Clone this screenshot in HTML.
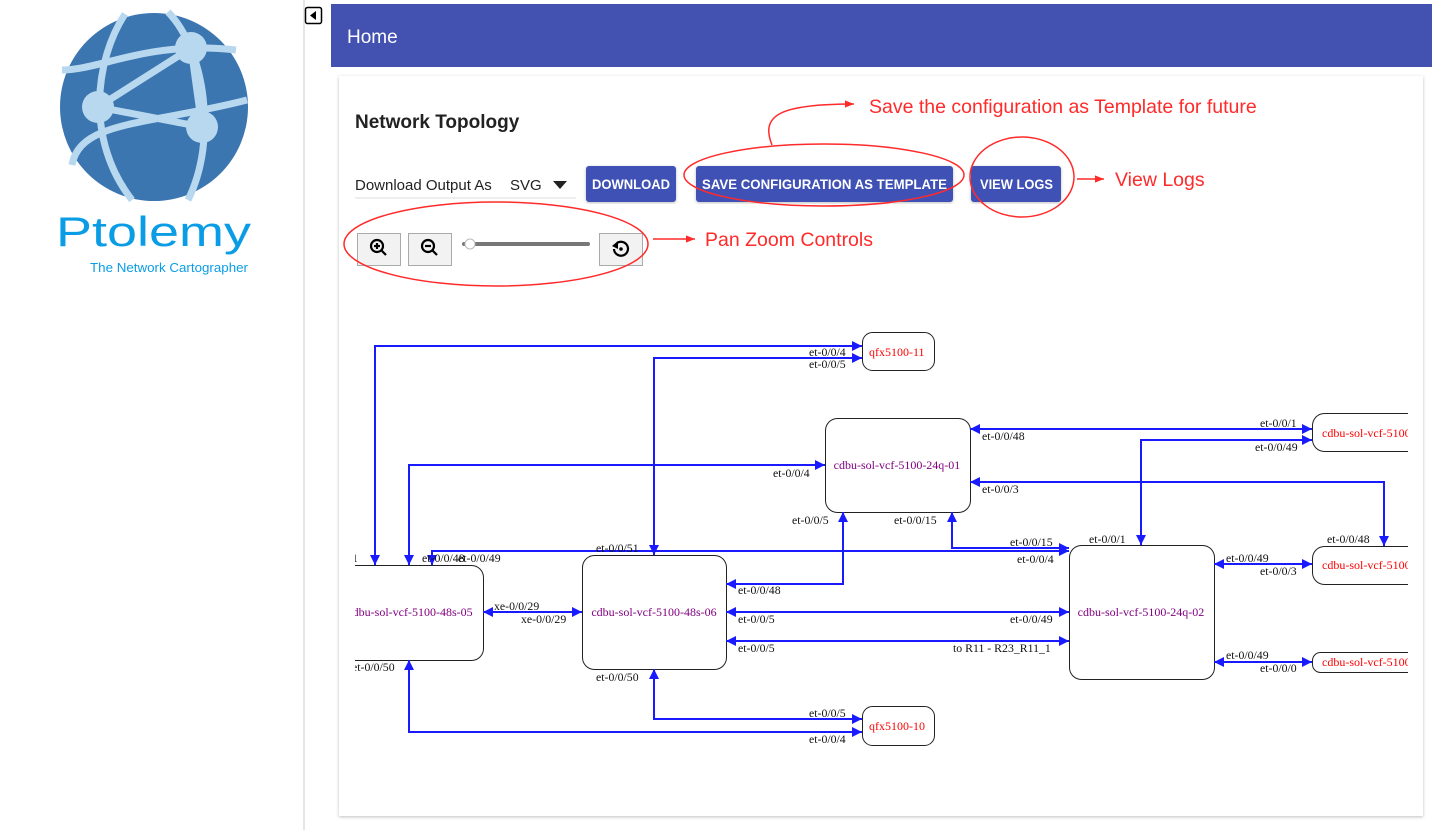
<!DOCTYPE html>
<html><head><meta charset="utf-8"><style>
html,body{margin:0;padding:0;width:1440px;height:830px;overflow:hidden;background:#fff;font-family:"Liberation Sans",sans-serif}
</style></head><body>
<svg width="1440" height="830" viewBox="0 0 1440 830" xmlns="http://www.w3.org/2000/svg" style="position:absolute;left:0;top:0">
<defs>
<marker id="a" viewBox="0 0 10 10" refX="10" refY="5" markerWidth="12" markerHeight="10" orient="auto-start-reverse" markerUnits="userSpaceOnUse"><path d="M0,0 L10,5 L0,10z" fill="#1a1aff"/></marker>
<marker id="r" viewBox="0 0 10 10" refX="10" refY="5" markerWidth="10" markerHeight="9" orient="auto" markerUnits="userSpaceOnUse"><path d="M0,1 L10,5 L0,9z" fill="#ff2a2a"/></marker>
<clipPath id="c"><rect x="355" y="300" width="1053" height="500"/></clipPath>
<filter id="sh" x="-5%" y="-5%" width="110%" height="110%"><feDropShadow dx="0" dy="1" stdDeviation="1.5" flood-color="#000" flood-opacity="0.25"/></filter>
</defs>
<!-- sidebar -->
<rect x="303" y="0" width="2" height="830" fill="#e6e6e6"/>
<rect x="305.5" y="7.5" width="16" height="16" rx="2" fill="#fff" stroke="#000" stroke-width="1.5"/>
<path d="M316,11 L310,15.5 L316,20z" fill="#000"/>
<!-- logo -->
<circle cx="154" cy="107" r="94" fill="#3b76b0"/>
<g fill="none" stroke="#b8d8f0" stroke-width="7">
<path d="M125,14 C95,60 85,140 132,200"/>
<path d="M168,12 C205,50 218,140 188,200"/>
<path d="M62,70 C100,70 150,40 236,50"/>
<path d="M72,165 C80,120 150,125 247,100"/>
<path d="M98,107 L191,48 L202,127 L98,107"/>
</g>
<g fill="#b8d8f0"><circle cx="98" cy="107" r="16"/><circle cx="191" cy="48" r="16"/><circle cx="202" cy="127" r="16"/></g>
<text x="56" y="246" font-size="42" fill="#0a9de6" textLength="195" lengthAdjust="spacingAndGlyphs">Ptolemy</text>
<text x="90" y="272" font-size="13" fill="#0a9de6" textLength="158" lengthAdjust="spacingAndGlyphs">The Network Cartographer</text>
<!-- header -->
<rect x="331" y="4" width="1101" height="63" fill="#4352b1"/>
<text x="347" y="43" font-size="19" fill="#fff">Home</text>
<!-- card -->
<rect x="339" y="76" width="1084" height="740" fill="#fff" filter="url(#sh)"/>
<text x="355" y="128" font-size="19" font-weight="bold" fill="#222">Network Topology</text>
<text x="355" y="190" font-size="15" fill="#222">Download Output As</text>
<text x="510" y="190" font-size="15" fill="#222">SVG</text>
<path d="M553,181 L567,181 L560,189z" fill="#222"/>
<line x1="355" y1="198" x2="576" y2="198" stroke="#ddd"/>
<g filter="url(#sh)" fill="#3f51b5">
<rect x="586" y="166" width="90" height="36" rx="3"/>
<rect x="696" y="166" width="257" height="36" rx="3"/>
<rect x="971" y="166" width="90" height="36" rx="3"/>
</g>
<g fill="#fff" font-size="14" font-weight="bold">
<text x="592" y="189" textLength="78" lengthAdjust="spacingAndGlyphs">DOWNLOAD</text>
<text x="702" y="189" textLength="245" lengthAdjust="spacingAndGlyphs">SAVE CONFIGURATION AS TEMPLATE</text>
<text x="980" y="189" textLength="73" lengthAdjust="spacingAndGlyphs">VIEW LOGS</text>
</g>
<!-- zoom controls -->
<g fill="#f2f2f2" stroke="#aaa">
<rect x="357.5" y="233.5" width="43" height="32"/><rect x="408.5" y="233.5" width="43" height="32"/><rect x="599.5" y="233.5" width="43" height="32"/>
</g>
<g stroke="#000" stroke-width="2.2" fill="none">
<circle cx="377" cy="246" r="6"/><line x1="381" y1="250" x2="386" y2="255"/><line x1="374" y1="246" x2="380" y2="246"/><line x1="377" y1="243" x2="377" y2="249"/>
<circle cx="428" cy="246" r="6"/><line x1="432" y1="250" x2="437" y2="255"/><line x1="425" y1="246" x2="431" y2="246"/>
<path d="M614,249 A7,7 0 1 0 617,243"/>
</g>
<path d="M612,246 L618,241 L618,249z" fill="#000"/><circle cx="621" cy="249" r="1.8" fill="#000"/>
<rect x="462" y="242" width="128" height="4" rx="2" fill="#777"/>
<circle cx="470" cy="244" r="5" fill="#fff" stroke="#bbb"/>
<!-- annotations -->
<g fill="none" stroke="#ff2a2a" stroke-width="1.5">
<ellipse cx="824" cy="175" rx="140" ry="31"/>
<ellipse cx="1022" cy="177" rx="52" ry="40"/>
<ellipse cx="496" cy="244" rx="152" ry="42"/>
<path d="M772,145 C760,115 780,104 854,104" marker-end="url(#r)"/>
<line x1="1077" y1="179" x2="1104" y2="179" marker-end="url(#r)"/>
<line x1="653" y1="239" x2="695" y2="239" marker-end="url(#r)"/>
</g>
<g fill="#ff2a2a" font-size="19.5">
<text x="869" y="113">Save the configuration as Template for future</text>
<text x="1115" y="186">View Logs</text>
<text x="705" y="246">Pan Zoom Controls</text>
</g>
<!-- diagram -->
<g clip-path="url(#c)">
<g fill="#fff" stroke="#222" stroke-width="1">
<rect x="862.5" y="332.5" width="72" height="38" rx="10"/>
<rect x="825.5" y="418.5" width="145" height="94" rx="12"/>
<rect x="330.5" y="565.5" width="153" height="95" rx="12"/>
<rect x="582.5" y="555.5" width="144" height="114" rx="12"/>
<rect x="1069.5" y="545.5" width="145" height="134" rx="12"/>
<rect x="862.5" y="706.5" width="72" height="39" rx="10"/>
<rect x="1312.5" y="413.5" width="120" height="38" rx="12"/>
<rect x="1312.5" y="546.5" width="120" height="38" rx="12"/>
<rect x="1312.5" y="652.5" width="120" height="20" rx="8"/>
</g>
<g fill="none" stroke="#1a1aff" stroke-width="2">
<path d="M375,565 V346 H862" marker-start="url(#a)" marker-end="url(#a)"/>
<path d="M654,555 V358 H862" marker-start="url(#a)" marker-end="url(#a)"/>
<path d="M409,565 V465 H825" marker-start="url(#a)" marker-end="url(#a)"/>
<path d="M432,565 V551 H1069" marker-start="url(#a)" marker-end="url(#a)"/>
<path d="M952,512 V548 H1069" marker-start="url(#a)" marker-end="url(#a)"/>
<path d="M726,584 H843 V512" marker-start="url(#a)" marker-end="url(#a)"/>
<path d="M726,612 H1069" marker-start="url(#a)" marker-end="url(#a)"/>
<path d="M726,641 H1069" marker-start="url(#a)" marker-end="url(#a)"/>
<path d="M483,612 H582" marker-start="url(#a)" marker-end="url(#a)"/>
<path d="M654,669 V719 H862" marker-start="url(#a)" marker-end="url(#a)"/>
<path d="M409,660 V732 H862" marker-start="url(#a)" marker-end="url(#a)"/>
<path d="M970,429 H1312" marker-start="url(#a)" marker-end="url(#a)"/>
<path d="M1141,545 V440 H1312" marker-start="url(#a)" marker-end="url(#a)"/>
<path d="M970,482 H1384 V546" marker-start="url(#a)" marker-end="url(#a)"/>
<path d="M1214,564 H1312" marker-start="url(#a)" marker-end="url(#a)"/>
<path d="M1214,662 H1312" marker-start="url(#a)" marker-end="url(#a)"/>
</g>
<g font-family="'Liberation Serif',serif" font-size="12" fill="#800080" text-anchor="middle">
<text x="410" y="616">cdbu-sol-vcf-5100-48s-05</text>
<text x="654" y="616">cdbu-sol-vcf-5100-48s-06</text>
<text x="897" y="469">cdbu-sol-vcf-5100-24q-01</text>
<text x="1141" y="616">cdbu-sol-vcf-5100-24q-02</text>
</g>
<g font-family="'Liberation Serif',serif" font-size="12" fill="#ff0000">
<text x="869" y="356">qfx5100-11</text>
<text x="869" y="730">qfx5100-10</text>
<text x="1322" y="437">cdbu-sol-vcf-5100-48s</text>
<text x="1322" y="569">cdbu-sol-vcf-5100-48s</text>
<text x="1322" y="666">cdbu-sol-vcf-5100-48s</text>
</g>
<g font-family="'Liberation Serif',serif" font-size="11.8" fill="#111">
<text x="809" y="356">et-0/0/4</text><text x="809" y="368">et-0/0/5</text>
<text x="773" y="477">et-0/0/4</text>
<text x="792" y="524">et-0/0/5</text><text x="894" y="524">et-0/0/15</text>
<text x="982" y="440">et-0/0/48</text><text x="1260" y="427">et-0/0/1</text>
<text x="1255" y="451">et-0/0/49</text>
<text x="982" y="493">et-0/0/3</text>
<text x="1010" y="546">et-0/0/15</text><text x="1017" y="563">et-0/0/4</text>
<text x="1089" y="543">et-0/0/1</text><text x="1327" y="543">et-0/0/48</text>
<text x="1226" y="562">et-0/0/49</text><text x="1260" y="575">et-0/0/3</text>
<text x="1226" y="659">et-0/0/49</text><text x="1260" y="672">et-0/0/0</text>
<text x="596" y="552">et-0/0/51</text>
<text x="352" y="562">1</text><text x="422" y="562">et-0/0/48</text><text x="458" y="562">et-0/0/49</text>
<text x="494" y="610">xe-0/0/29</text><text x="521" y="623">xe-0/0/29</text>
<text x="738" y="594">et-0/0/48</text>
<text x="738" y="623">et-0/0/5</text><text x="1010" y="623">et-0/0/49</text>
<text x="738" y="652">et-0/0/5</text><text x="953" y="652">to R11 - R23_R11_1</text>
<text x="352" y="671">et-0/0/50</text><text x="596" y="681">et-0/0/50</text>
<text x="809" y="717">et-0/0/5</text><text x="809" y="743">et-0/0/4</text>
</g>
</g>
</svg>
</body></html>
